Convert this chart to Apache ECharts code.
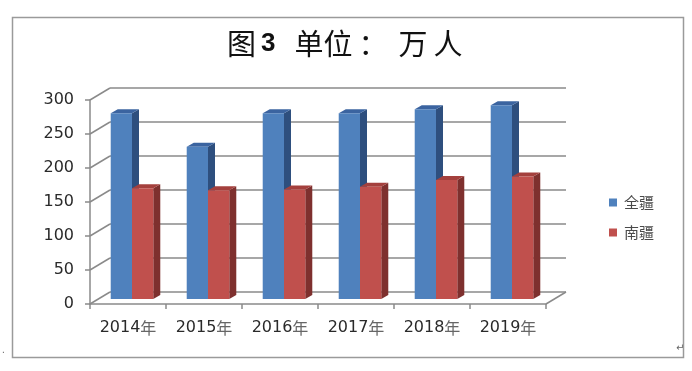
<!DOCTYPE html>
<html>
<head>
<meta charset="utf-8">
<script src="https://cdn.jsdelivr.net/npm/echarts@6/dist/echarts.min.js"></script>
<style>
html,body{margin:0;padding:0;background:#fff;}
#chart{width:692px;height:371px;}
</style>
</head>
<body>
<div id="chart"></div>
<script>
// ---- data ----
const categories = ['2014年', '2015年', '2016年', '2017年', '2018年', '2019年'];
const quanJiang = [273, 224, 273, 273, 279, 285];   // 全疆
const nanJiang  = [163, 160, 161, 165, 175, 180];   // 南疆
const yTicks = [0, 50, 100, 150, 200, 250, 300];
const seriesNames = ['全疆', '南疆'];

// ---- style constants ----
const DEPTH_X = 20, DEPTH_Y = -12;     // wall depth offset
const BAR_PLANE_Y = -5;                // bars front plane offset
const BAR_SHIFT_X = 4;
const BAR_DX = 7, BAR_DY = -4;         // bar depth
const GRID = {left: 90, top: 100, width: 456, height: 204};
const lineGray = '#8a8a8a';

const chart = echarts.init(document.getElementById('chart'), null, {renderer: 'canvas'});

function barRenderer(slot, front, top, side) {
  return function (params, api) {
    const idx = api.value(0), v = api.value(1);
    const base = api.coord([idx, 0]);
    const tp = api.coord([idx, v]);
    const band = api.size([1, 0])[0];
    const w = band * 0.28;
    const cx = base[0] + BAR_SHIFT_X;
    const x0 = cx - w + slot * w;
    const x1 = x0 + w;
    const yb = base[1] + BAR_PLANE_Y;
    const yt = tp[1] + BAR_PLANE_Y;
    return {
      type: 'group',
      children: [
        {type: 'polygon', shape: {points: [[x1, yt], [x1 + BAR_DX, yt + BAR_DY], [x1 + BAR_DX, yb + BAR_DY], [x1, yb]]}, style: {fill: side}},
        {type: 'polygon', shape: {points: [[x0, yt], [x0 + BAR_DX, yt + BAR_DY], [x1 + BAR_DX, yt + BAR_DY], [x1, yt]]}, style: {fill: top}},
        {type: 'rect', shape: {x: x0, y: yt, width: w, height: yb - yt}, style: {fill: front}}
      ]
    };
  };
}

const option = {
  backgroundColor: '#fff',
  animation: false,
  graphic: [
    {type: 'rect', shape: {x: 12.5, y: 17.5, width: 671, height: 340}, style: {fill: 'none', stroke: '#9a9a9a', lineWidth: 1.5}, z: -1},
    {
      type: 'text', left: 227, top: 29,
      style: {
        text: '{c|图}{n|3}{c|单位}{p|：}{w|万}{c|人}',
        rich: {
          c: {fontFamily: 'Noto Sans CJK SC', fontSize: 29, fill: '#111'},
          p: {fontFamily: 'Noto Sans CJK SC', fontSize: 29, fill: '#111', padding: [0, 11, 0, 6]},
          w: {fontFamily: 'Noto Sans CJK SC', fontSize: 29, fill: '#111', padding: [0, 6, 0, 0]},
          n: {fontFamily: 'Liberation Sans', fontWeight: 'bold', fontSize: 26, fill: '#111', padding: [0, 19, 0, 5]}
        }
      }
    },
    {type: 'text', left: 2, top: 345, style: {text: '.', fontSize: 10, fill: '#666'}},
    {type: 'text', left: 676, top: 343, style: {text: '↵', fontFamily: 'DejaVu Sans', fontSize: 10, fill: '#666'}}
  ],
  legend: {
    data: seriesNames,
    orient: 'vertical',
    left: 604, top: 190,
    icon: 'rect', itemWidth: 8, itemHeight: 8, itemGap: 15,
    textStyle: {fontFamily: 'Noto Sans CJK SC', fontSize: 15, color: '#4a4a4a', padding: [0, 0, 0, 2]}
  },
  grid: [
    {left: GRID.left, top: GRID.top, width: GRID.width, height: GRID.height},
    {left: GRID.left + DEPTH_X, top: GRID.top + DEPTH_Y, width: GRID.width, height: GRID.height}
  ],
  xAxis: [
    {
      type: 'category', gridIndex: 0, data: categories,
      axisLine: {lineStyle: {color: lineGray, width: 1.5}},
      axisTick: {show: true, length: 5, interval: 0, lineStyle: {color: lineGray, width: 1.5}},
      axisLabel: {
        margin: 16, interval: 0,
        formatter: function (v) { return '{d|' + v.replace('年', '') + '}{y|年}'; },
        rich: {
          d: {fontFamily: 'DejaVu Sans', fontSize: 16, color: '#2a2a2a'},
          y: {fontFamily: 'Noto Sans CJK SC', fontSize: 16, color: '#666'}
        }
      },
      splitLine: {show: false}
    },
    {type: 'category', gridIndex: 1, data: categories, show: false}
  ],
  yAxis: [
    {
      type: 'value', gridIndex: 0, min: 0, max: 300, interval: 50,
      axisLine: {show: true, lineStyle: {color: lineGray, width: 1.5}},
      axisTick: {show: true, length: 5, lineStyle: {color: lineGray, width: 1.5}},
      axisLabel: {margin: 16, fontFamily: 'DejaVu Sans', fontSize: 16, color: '#2a2a2a'},
      splitLine: {show: false}
    },
    {
      type: 'value', gridIndex: 1, min: 0, max: 300, interval: 50,
      axisLine: {show: false}, axisTick: {show: false}, axisLabel: {show: false},
      splitLine: {show: true, lineStyle: {color: lineGray, width: 1.5}}
    }
  ],
  series: [
    {
      name: 'walls', type: 'custom', xAxisIndex: 0, yAxisIndex: 0, silent: true, z: 1,
      data: yTicks.map(function (v) { return [0, v]; }),
      renderItem: function (params, api) {
        const p = api.coord([0, api.value(1)]);
        const cs = params.coordSys;
        const children = [{
          type: 'line',
          shape: {x1: cs.x, y1: p[1], x2: cs.x + DEPTH_X, y2: p[1] + DEPTH_Y},
          style: {stroke: lineGray, lineWidth: 1.5}
        }];
        if (api.value(1) === 0) {
          children.push({
            type: 'line',
            shape: {x1: cs.x + cs.width, y1: p[1], x2: cs.x + cs.width + DEPTH_X, y2: p[1] + DEPTH_Y},
            style: {stroke: lineGray, lineWidth: 1.5}
          });
        }
        return {type: 'group', children: children};
      }
    },
    {
      name: seriesNames[0], type: 'custom', xAxisIndex: 0, yAxisIndex: 0, z: 3,
      itemStyle: {color: '#4F81BD'},
      encode: {x: 0, y: 1},
      data: quanJiang.map(function (v, i) { return [i, v]; }),
      renderItem: barRenderer(0, '#4F81BD', '#3B64A0', '#2E4F7E')
    },
    {
      name: seriesNames[1], type: 'custom', xAxisIndex: 0, yAxisIndex: 0, z: 4,
      itemStyle: {color: '#C0504D'},
      encode: {x: 0, y: 1},
      data: nanJiang.map(function (v, i) { return [i, v]; }),
      renderItem: barRenderer(1, '#C0504D', '#A4403D', '#7E302E')
    }
  ]
};
chart.setOption(option);
</script>
</body>
</html>
